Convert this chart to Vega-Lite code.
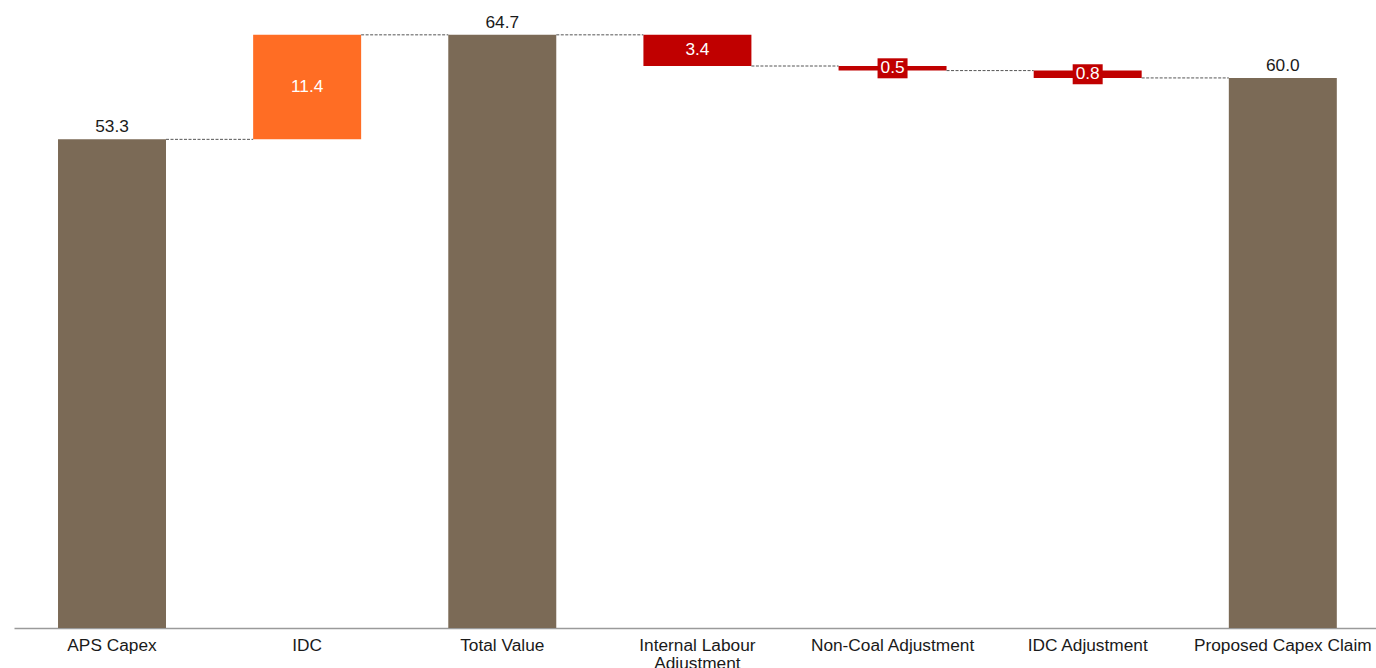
{
  "$schema": "https://vega.github.io/schema/vega-lite/v6.json",
  "autosize": "none",
  "width": 1362,
  "height": 628,
  "padding": {"left": 14, "top": 0, "right": 0, "bottom": 40},
  "config": {
    "view": {"stroke": null},
    "font": "Liberation Sans",
    "text": {"font": "Liberation Sans", "fontSize": 17.3}
  },
  "data": {
    "values": [
      {"cat": "APS Capex", "kind": "total", "start": 0, "end": 53.3, "amount": 53.3, "next": "IDC"},
      {"cat": "IDC", "kind": "increase", "start": 53.3, "end": 64.7, "amount": 11.4, "next": "Total Value"},
      {"cat": "Total Value", "kind": "total", "start": 0, "end": 64.7, "amount": 64.7, "next": "Internal Labour Adjustment"},
      {"cat": "Internal Labour Adjustment", "kind": "decrease", "start": 64.7, "end": 61.3, "amount": 3.4, "next": "Non-Coal Adjustment"},
      {"cat": "Non-Coal Adjustment", "kind": "decrease", "start": 61.3, "end": 60.8, "amount": 0.5, "next": "IDC Adjustment"},
      {"cat": "IDC Adjustment", "kind": "decrease", "start": 60.8, "end": 60.0, "amount": 0.8, "next": "Proposed Capex Claim"},
      {"cat": "Proposed Capex Claim", "kind": "total", "start": 0, "end": 60.0, "amount": 60.0, "next": null}
    ]
  },
  "encoding": {
    "x": {
      "field": "cat",
      "type": "nominal",
      "title": null,
      "scale": {
        "domain": ["APS Capex", "IDC", "Total Value", "Internal Labour Adjustment", "Non-Coal Adjustment", "IDC Adjustment", "Proposed Capex Claim"],
        "paddingInner": 0.4466,
        "paddingOuter": 0.2132,
        "align": 0.529
      },
      "axis": {
        "labelAngle": 0,
        "ticks": false,
        "tickSize": 0,
        "labelPadding": 8,
        "labelFont": "Liberation Sans",
        "labelFontSize": 17.3,
        "labelColor": "#1a1a1a",
        "labelLimit": 300,
        "labelLineHeight": 18,
        "labelExpr": "datum.value == 'Internal Labour Adjustment' ? ['Internal Labour', 'Adjustment'] : datum.value",
        "domainColor": "#9a9a9a",
        "domainWidth": 1.5,
        "grid": false
      }
    }
  },
  "layer": [
    {
      "mark": {"type": "bar"},
      "encoding": {
        "y": {"field": "start", "type": "quantitative", "scale": {"domain": [0, 68.5], "nice": false, "zero": true}, "axis": null},
        "y2": {"field": "end"},
        "color": {
          "field": "kind",
          "type": "nominal",
          "scale": {"domain": ["total", "increase", "decrease"], "range": ["#7b6a56", "#ff6d24", "#c00000"]},
          "legend": null
        }
      }
    },
    {
      "transform": [{"filter": "datum.next != null"}],
      "mark": {"type": "rule", "color": "#555555", "strokeWidth": 1, "strokeDash": [3, 1.5]},
      "encoding": {
        "x": {"field": "cat", "type": "nominal", "bandPosition": 1},
        "x2": {"field": "next", "bandPosition": 0},
        "y": {"field": "end", "type": "quantitative"}
      }
    },
    {
      "transform": [{"filter": "datum.kind == 'total'"}],
      "mark": {"type": "text", "baseline": "alphabetic", "dy": -7, "color": "#1a1a1a"},
      "encoding": {
        "y": {"field": "end", "type": "quantitative"},
        "text": {"field": "amount", "type": "quantitative", "format": ".1f"}
      }
    },
    {
      "transform": [
        {"filter": "datum.kind != 'total' && datum.amount >= 1"},
        {"fold": ["start", "end"], "as": ["edge", "v"]}
      ],
      "mark": {"type": "text", "baseline": "middle", "color": "white"},
      "encoding": {
        "y": {"aggregate": "mean", "field": "v", "type": "quantitative"},
        "text": {"aggregate": "max", "field": "amount", "type": "quantitative", "format": ".1f"}
      }
    },
    {
      "transform": [
        {"filter": "datum.kind != 'total' && datum.amount < 1"},
        {"fold": ["start", "end"], "as": ["edge", "v"]}
      ],
      "mark": {"type": "point", "filled": true, "opacity": 1, "color": "#c00000", "shape": "M-1.5,-1H1.5V1H-1.5Z", "size": 400, "strokeWidth": 0},
      "encoding": {
        "y": {"aggregate": "mean", "field": "v", "type": "quantitative"}
      }
    },
    {
      "transform": [
        {"filter": "datum.kind != 'total' && datum.amount < 1"},
        {"fold": ["start", "end"], "as": ["edge", "v"]}
      ],
      "mark": {"type": "text", "baseline": "middle", "color": "white"},
      "encoding": {
        "y": {"aggregate": "mean", "field": "v", "type": "quantitative"},
        "text": {"aggregate": "max", "field": "amount", "type": "quantitative", "format": ".1f"}
      }
    }
  ]
}
